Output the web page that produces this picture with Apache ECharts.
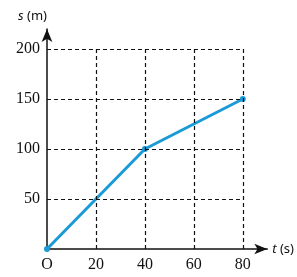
<!DOCTYPE html>
<html>
<head>
<meta charset="utf-8">
<script src="https://cdn.jsdelivr.net/npm/echarts@6/dist/echarts.min.js"></script>
<style>
  html, body { margin: 0; padding: 0; background: #fff; }
  #chart { width: 297px; height: 277px; }
</style>
</head>
<body>
<div id="chart"></div>
<script>
// data
var tValues = [0, 40, 80];
var sValues = [0, 100, 150];
var xTicks = [20, 40, 60, 80];
var yTicks = [50, 100, 150, 200];
var xGridMax = 80, yGridMax = 200;

var points = tValues.map(function (t, i) { return [t, sValues[i]]; });

// dashed grid built from tick lists
var gridLines = [];
xTicks.forEach(function (x) {
    gridLines.push([{ coord: [x, 0] }, { coord: [x, yGridMax] }]);
});
yTicks.forEach(function (y) {
    gridLines.push([{ coord: [0, y] }, { coord: [xGridMax, y] }]);
});

var nameStyle = {
    color: '#111', fontFamily: 'Noto Sans', fontSize: 13,
    rich: { i: { fontStyle: 'italic', fontFamily: 'Noto Sans', fontSize: 13, color: '#111' } }
};

var chart = echarts.init(document.getElementById('chart'));
chart.setOption({
    animation: false,
    grid: { left: 47, top: 29, width: 225, height: 220 },
    xAxis: {
        type: 'value',
        min: 0, max: 90, interval: 20,
        splitLine: { show: false },
        axisTick: { show: false },
        axisLine: {
            lineStyle: { color: '#111', width: 1.5 },
            symbol: ['none', 'arrow'], symbolSize: [8, 13]
        },
        axisLabel: {
            color: '#111', fontFamily: 'Liberation Serif', fontSize: 16, margin: 8,
            formatter: function (v) { return v === 0 ? 'O' : (v > 80 ? '' : v); }
        },
        name: '{i|t} (s)',
        nameLocation: 'end', nameGap: 5,
        nameTextStyle: nameStyle
    },
    yAxis: {
        type: 'value',
        min: 0, max: 220, interval: 50,
        splitLine: { show: false },
        axisTick: { show: false },
        axisLine: {
            lineStyle: { color: '#111', width: 1.5 },
            symbol: ['none', 'arrow'], symbolSize: [8, 13]
        },
        axisLabel: {
            color: '#111', fontFamily: 'Liberation Serif', fontSize: 16, margin: 7,
            formatter: function (v) { return (v === 0 || v > 200) ? '' : v; }
        },
        name: '{i|s} (m)',
        nameLocation: 'end', nameGap: 6,
        nameTextStyle: Object.assign({ align: 'right', padding: [0, 0, 0, 0] }, nameStyle)
    },
    series: [{
        type: 'line',
        data: points,
        symbol: 'circle',
        symbolSize: 6,
        itemStyle: { color: '#1a9bd7' },
        lineStyle: { color: '#1a9bd7', width: 3 },
        z: 3,
        markLine: {
            silent: true,
            symbol: ['none', 'none'],
            label: { show: false },
            lineStyle: { color: '#111', type: [4, 3], width: 1.2 },
            data: gridLines
        }
    }]
});
</script>
</body>
</html>
